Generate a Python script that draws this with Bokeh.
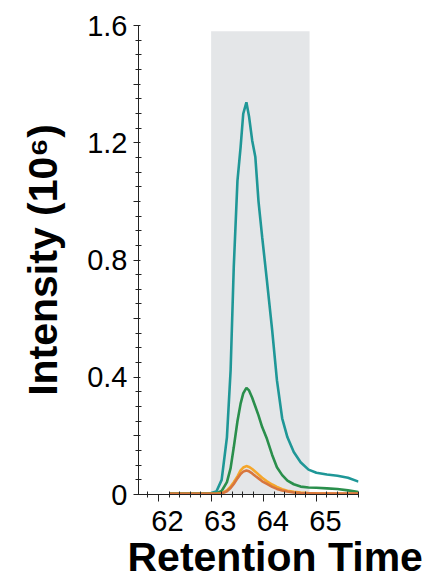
from bokeh.plotting import figure
from bokeh.models import Range1d, FixedTicker, BoxAnnotation, LinearAxis, Title
from bokeh.embed import file_html
from bokeh.resources import INLINE

# ---- data ----
retention_time = [62.2, 62.4, 62.6, 62.8, 63.0, 63.1, 63.2, 63.3, 63.37, 63.43, 63.5, 63.56,
                  63.61, 63.67, 63.72, 63.78, 63.84, 63.9, 63.97, 64.06, 64.16, 64.25, 64.35,
                  64.45, 64.57, 64.7, 64.85, 65.0, 65.2, 65.4, 65.6, 65.8]
teal_series = [0.004, 0.004, 0.004, 0.004, 0.005, 0.01, 0.05, 0.195, 0.423, 0.776, 1.07, 1.185,
               1.299, 1.338, 1.29, 1.208, 1.151, 1.0, 0.878, 0.73, 0.56, 0.39, 0.26,
               0.195, 0.145, 0.11, 0.085, 0.074, 0.068, 0.064, 0.057, 0.044]
green_series = [0.003, 0.003, 0.003, 0.003, 0.003, 0.004, 0.012, 0.042, 0.09, 0.161, 0.25, 0.31,
                0.345, 0.364, 0.355, 0.33, 0.30, 0.27, 0.23, 0.19, 0.135, 0.093, 0.066,
                0.047, 0.035, 0.027, 0.024, 0.023, 0.021, 0.019, 0.014, 0.008]
orange_series = [0.002, 0.002, 0.002, 0.002, 0.002, 0.002, 0.004, 0.014, 0.027, 0.042, 0.062, 0.082,
                 0.092, 0.097, 0.094, 0.087, 0.078, 0.068, 0.057, 0.045, 0.034, 0.026, 0.018,
                 0.013, 0.009, 0.007, 0.005, 0.004, 0.003, 0.002, 0.002, 0.002]
brown_series = [0.002, 0.002, 0.002, 0.002, 0.002, 0.002, 0.003, 0.011, 0.022, 0.036, 0.055, 0.07,
                0.078, 0.082, 0.079, 0.072, 0.063, 0.055, 0.045, 0.036, 0.026, 0.019, 0.014,
                0.010, 0.007, 0.005, 0.004, 0.003, 0.003, 0.003, 0.003, 0.003]

x_ticks = [62, 63, 64, 65]
x_tick_labels = ["62", "63", "64", "65"]
x_minor_ticks = [61.8, 62.2, 62.4, 62.6, 62.8, 63.2, 63.4, 63.6, 63.8, 64.2, 64.4, 64.6, 64.8,
                 65.2, 65.4, 65.6, 65.8]
y_ticks = [0, 0.2, 0.4, 0.6, 0.8, 1.0, 1.2, 1.4, 1.6]
y_tick_labels = ["0", "", "0.4", "", "0.8", "", "1.2", "", "1.6"]
y_minor_ticks = [0.05, 0.1, 0.15, 0.25, 0.3, 0.35, 0.45, 0.5, 0.55, 0.65, 0.7, 0.75,
                 0.85, 0.9, 0.95, 1.05, 1.1, 1.15, 1.25, 1.3, 1.35, 1.45, 1.5, 1.55]

x_start, x_end = 61.62, 65.8
y_start, y_end = 0, 1.6
shade_left, shade_right, shade_top = 63.0, 64.87, 1.58

FONT = "Liberation Sans"
FRAME_W = 220
LABEL_SHIFT_PX = 9  # x tick labels sit slightly right of their ticks in the reference

p = figure(width=434, height=588, output_backend="svg", toolbar_location=None,
           x_range=Range1d(x_start, x_end), y_range=Range1d(y_start, y_end),
           min_border_left=138, min_border_right=76, min_border_top=25, min_border_bottom=94)
p.outline_line_color = None
p.xgrid.visible = False
p.ygrid.visible = False
p.background_fill_color = "white"
p.border_fill_color = "white"

p.add_layout(BoxAnnotation(left=shade_left, right=shade_right, bottom=y_start, top=shade_top,
                           fill_color="#e4e6e8", fill_alpha=1.0, line_color=None, level="underlay"))

p.line(retention_time, teal_series, line_width=2.6, color="#1f9797")
p.line(retention_time, green_series, line_width=2.6, color="#2a8f4c")
p.line(retention_time, orange_series, line_width=2.6, color="#f5a62a")
p.line(retention_time, brown_series, line_width=2.6, color="#d8763e")

# y axis
ya = p.yaxis[0]
ya.ticker = FixedTicker(ticks=y_ticks, minor_ticks=y_minor_ticks)
ya.major_label_overrides = {t: s for t, s in zip(y_ticks, y_tick_labels)}
ya.major_label_text_font = FONT
ya.major_label_text_font_size = "29px"
ya.major_label_text_color = "black"
ya.major_tick_in = 2
ya.major_tick_out = 5
ya.minor_tick_in = 3
ya.minor_tick_out = 3
ya.major_label_standoff = 6
ya.axis_line_color = "#222222"
ya.major_tick_line_color = "#222222"
ya.minor_tick_line_color = "#222222"
ya.axis_label = "Intensity (10\u2076)"
ya.axis_label_text_font = FONT
ya.axis_label_text_font_style = "bold"
ya.axis_label_text_font_size = "41px"
ya.axis_label_text_color = "black"
ya.axis_label_standoff = 18

# x axis: ticks only
xa = p.xaxis[0]
xa.ticker = FixedTicker(ticks=x_ticks, minor_ticks=x_minor_ticks)
xa.major_label_overrides = {t: "" for t in x_ticks}
xa.major_label_text_font_size = "0px"
xa.major_label_standoff = 0
xa.major_tick_in = 0
xa.major_tick_out = 7
xa.minor_tick_in = 3
xa.minor_tick_out = 3
xa.axis_line_color = "#222222"
xa.major_tick_line_color = "#222222"
xa.minor_tick_line_color = "#222222"

# x tick labels: a second, line-less axis whose labels are nudged right as in the reference
shift = LABEL_SHIFT_PX * (x_end - x_start) / FRAME_W
label_pos = [t + shift for t in x_ticks]
xl = LinearAxis(ticker=FixedTicker(ticks=label_pos, minor_ticks=[]),
                major_label_overrides={pos: s for pos, s in zip(label_pos, x_tick_labels)},
                axis_line_color=None, major_tick_line_color=None, minor_tick_line_color=None,
                major_tick_in=0, major_tick_out=0, minor_tick_in=0, minor_tick_out=0,
                major_label_standoff=9, major_label_text_font=FONT,
                major_label_text_font_size="29px", major_label_text_color="black")
p.add_layout(xl, "below")

p.add_layout(Title(text="Retention Time", align="left", offset=-11, standoff=-4,
                   text_font=FONT, text_font_style="bold", text_font_size="41px",
                   text_color="black"), "below")

open("out.html", "w").write(file_html(p, INLINE))
